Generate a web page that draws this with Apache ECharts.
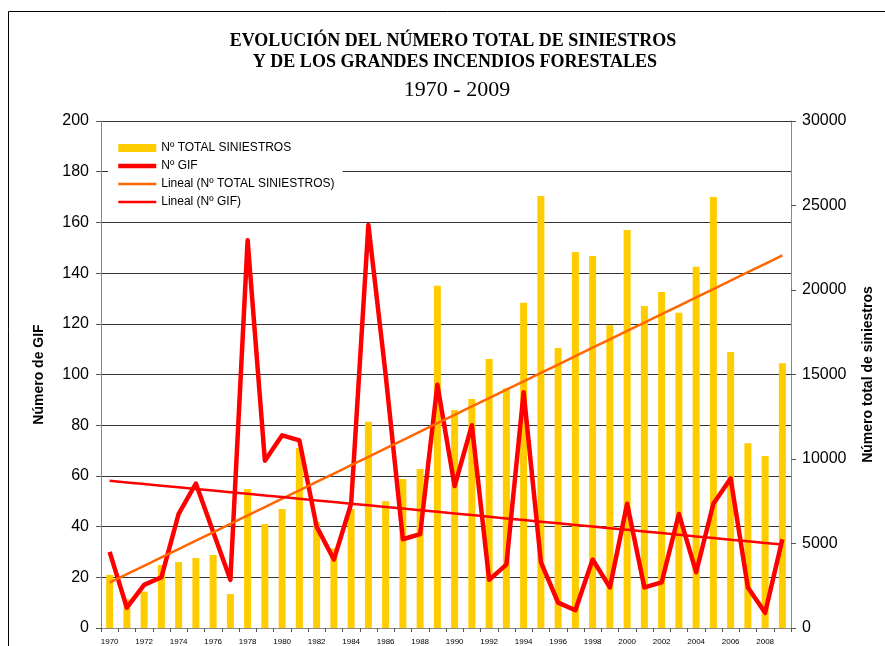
<!DOCTYPE html>
<html>
<head>
<meta charset="utf-8">
<script src="https://cdn.jsdelivr.net/npm/echarts@6/dist/echarts.min.js"></script>
<style>
  html, body { margin: 0; padding: 0; background: #fff; }
  #chart { width: 885px; height: 646px; }
</style>
</head>
<body>
<div id="chart"></div>
<script>
// Years 1970-2009
const years = [];
for (let y = 1970; y <= 2009; y++) years.push(String(y));

// Nº TOTAL SINIESTROS (right axis)
const totalSiniestros = [
  3140, 1700, 2150, 3730, 3900, 4140, 4320, 2010, 8230, 6150,
  7040, 10650, 6270, 4710, 7040, 12200, 7510, 8820, 9410, 20250,
  12900, 13550, 15920, 14180, 19250, 25560, 16570, 22250, 22010, 17910,
  23550, 19050, 19880, 18660, 21380, 25500, 16330, 10930, 10180, 15660
];

// Nº GIF (left axis)
const numGIF = [
  30, 8, 17, 20, 45, 57, 38, 19, 153, 66,
  76, 74, 40, 27, 49, 159, 100, 35, 37, 96,
  56, 80, 19, 25, 93, 26, 10, 7, 27, 16,
  49, 16, 18, 45, 22, 49, 59, 16, 6, 35
];

const leftTicks = { min: 0, max: 200, interval: 20 };
const rightTicks = { min: 0, max: 30000, interval: 5000 };

// Least-squares linear trend ("Lineal") over the category index
function linearTrend(values) {
  const n = values.length;
  let sx = 0, sy = 0, sxx = 0, sxy = 0;
  values.forEach((v, i) => { sx += i; sy += v; sxx += i * i; sxy += i * v; });
  const slope = (n * sxy - sx * sy) / (n * sxx - sx * sx);
  const icpt = (sy - slope * sx) / n;
  return values.map((_, i) => icpt + slope * i);
}

const sans = '"Liberation Sans", Arial, sans-serif';
const serif = '"Liberation Serif", "Times New Roman", serif';

const chart = echarts.init(document.getElementById('chart'), null, { renderer: 'canvas' });

chart.setOption({
  animation: false,
  backgroundColor: '#fff',
  graphic: [
    { type: 'rect', shape: { x: 8.5, y: 11.5, width: 920, height: 700 },
      style: { fill: 'none', stroke: '#000', lineWidth: 1 }, silent: true, z: -1 },
    { type: 'text', x: 453, y: 41, style: { text: 'EVOLUCIÓN DEL NÚMERO TOTAL DE SINIESTROS',
      font: 'bold 18px ' + serif, fill: '#000', textAlign: 'center', textVerticalAlign: 'middle' } },
    { type: 'text', x: 455, y: 62, style: { text: 'Y DE LOS GRANDES INCENDIOS FORESTALES',
      font: 'bold 18px ' + serif, fill: '#000', textAlign: 'center', textVerticalAlign: 'middle' } },
    { type: 'text', x: 457, y: 90, style: { text: '1970 - 2009',
      font: '22px ' + serif, fill: '#000', textAlign: 'center', textVerticalAlign: 'middle' } }
  ],
  legend: {
    orient: 'vertical',
    left: 108,
    top: 135,
    padding: [6, 8, 6, 8],
    backgroundColor: '#fff',
    itemWidth: 38,
    itemHeight: 8,
    itemGap: 4,
    textStyle: { fontFamily: sans, fontSize: 12, color: '#000', lineHeight: 14 },
    data: [
      { name: 'Nº TOTAL SINIESTROS', icon: 'rect' },
      { name: 'Nº GIF', itemStyle: { opacity: 0 }, lineStyle: { width: 4.5 } },
      { name: 'Lineal (Nº TOTAL SINIESTROS)', itemStyle: { opacity: 0 }, lineStyle: { width: 2.5 } },
      { name: 'Lineal (Nº GIF)', itemStyle: { opacity: 0 }, lineStyle: { width: 2.5 } }
    ]
  },
  grid: { left: 101, right: 94, top: 121, bottom: 18, containLabel: false },
  xAxis: {
    type: 'category',
    data: years,
    boundaryGap: true,
    axisLine: { lineStyle: { color: '#888', width: 1 } },
    axisTick: { show: true, interval: 0, length: 4, lineStyle: { color: '#555' } },
    axisLabel: { interval: 1, fontFamily: sans, fontSize: 8, color: '#000', margin: 10 }
  },
  yAxis: [
    {
      type: 'value',
      min: leftTicks.min, max: leftTicks.max, interval: leftTicks.interval,
      position: 'left',
      name: 'Número de GIF',
      nameLocation: 'middle',
      nameRotate: 90,
      nameGap: 55,
      nameTextStyle: { fontFamily: sans, fontSize: 14, fontWeight: 'bold', color: '#000' },
      axisLine: { show: true, lineStyle: { color: '#888', width: 1 } },
      axisTick: { show: true, length: 5, lineStyle: { color: '#555' } },
      axisLabel: { fontFamily: sans, fontSize: 16, color: '#000', margin: 12 },
      splitLine: { show: true, lineStyle: { color: '#333', width: 1 } }
    },
    {
      type: 'value',
      min: rightTicks.min, max: rightTicks.max, interval: rightTicks.interval,
      position: 'right',
      name: 'Número total de siniestros',
      nameLocation: 'middle',
      nameRotate: 90,
      nameGap: 70,
      nameTextStyle: { fontFamily: sans, fontSize: 14, fontWeight: 'bold', color: '#000' },
      axisLine: { show: true, lineStyle: { color: '#888', width: 1 } },
      axisTick: { show: true, length: 5, lineStyle: { color: '#555' } },
      axisLabel: { fontFamily: sans, fontSize: 16, color: '#000', margin: 11,
        formatter: (v) => String(v) },
      splitLine: { show: false }
    }
  ],
  series: [
    {
      name: 'Nº TOTAL SINIESTROS',
      type: 'bar',
      yAxisIndex: 1,
      data: totalSiniestros,
      barWidth: 7,
      itemStyle: { color: '#FFCC00' },
      z: 2
    },
    {
      name: 'Nº GIF',
      type: 'line',
      yAxisIndex: 0,
      data: numGIF,
      symbol: 'none',
      lineStyle: { color: '#FF0000', width: 4.5, join: 'round' },
      itemStyle: { color: '#FF0000' },
      z: 3
    },
    {
      name: 'Lineal (Nº TOTAL SINIESTROS)',
      type: 'line',
      yAxisIndex: 1,
      data: linearTrend(totalSiniestros),
      symbol: 'none',
      lineStyle: { color: '#FF6600', width: 2.5 },
      itemStyle: { color: '#FF6600' },
      z: 4
    },
    {
      name: 'Lineal (Nº GIF)',
      type: 'line',
      yAxisIndex: 0,
      data: linearTrend(numGIF),
      symbol: 'none',
      lineStyle: { color: '#FF0000', width: 2.5 },
      itemStyle: { color: '#FF0000' },
      z: 4
    }
  ]
});
</script>
</body>
</html>
